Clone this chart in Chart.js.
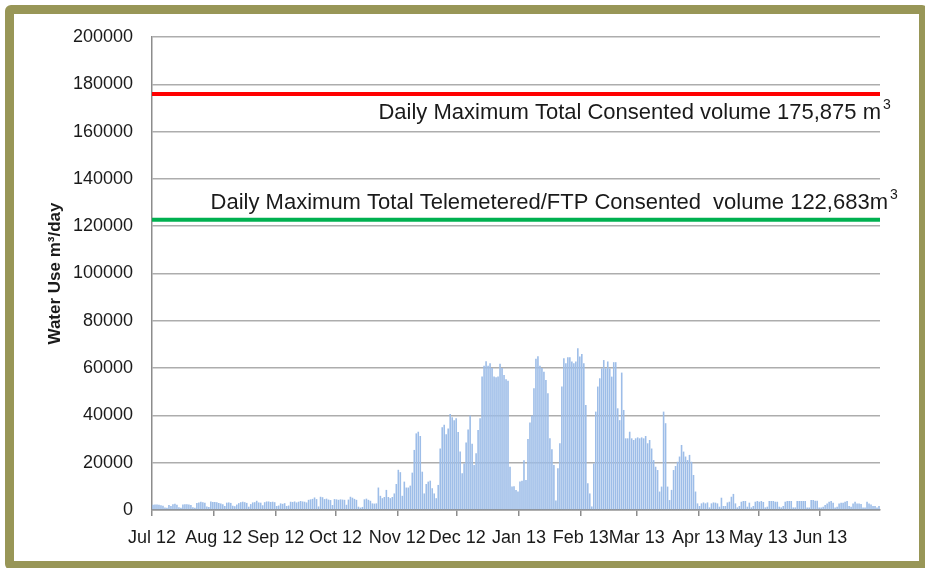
<!DOCTYPE html>
<html>
<head>
<meta charset="utf-8">
<title>Daily water use</title>
<script src="https://cdn.jsdelivr.net/npm/chart.js@4.4.0/dist/chart.umd.min.js"></script>
<style>
  html, body { margin: 0; padding: 0; background: #fff; overflow: hidden; }
  #frame {
    position: absolute; left: 5px; top: 5px; width: 923px; height: 565px;
    box-sizing: border-box; border: 9px solid #989657; border-radius: 6px; background: #fff;
  }
  #wrap { position: absolute; left: 0; top: 0; width: 925px; height: 568px; }
</style>
</head>
<body>
<div id="frame"></div>
<div id="wrap"><canvas id="waterChart" width="925" height="568"></canvas></div>
<script>
// Month labels and the day (from 1 Jul 2012) each month starts on
const monthLabels = ['Jul 12', 'Aug 12', 'Sep 12', 'Oct 12', 'Nov 12', 'Dec 12',
                     'Jan 13', 'Feb 13', 'Mar 13', 'Apr 13', 'May 13', 'Jun 13'];
const monthStartDays = [0, 31, 62, 92, 123, 153, 184, 215, 243, 274, 304, 335];
const daysInYear = 365;

// Consent limits (m3/day)
const consentedMax = 175875;
const telemeteredMax = 122683;

// Daily water use, m3/day, 1 Jul 2012 - 30 Jun 2013
const dailyUse = [
  // Jul
  2200, 2300, 2300, 2200, 2000, 1800, 1100, 900, 2100, 1700, 2400, 2600, 2200, 1200, 1000, 2300,
  2400, 2400, 2300, 2100, 1200, 1000, 3000, 3200, 3500, 3300, 3100, 1500, 1300, 3600, 3400,
  // Aug
  3400, 3300, 3000, 2700, 2400, 1700, 3100, 3200, 3000, 1800, 1600, 2300, 2900, 3300, 3500, 3300,
  3000, 1400, 2500, 3200, 3300, 3900, 3200, 3100, 2000, 3300, 3600, 3600, 3400, 3500, 3300,
  // Sep
  1700, 1900, 2800, 2600, 2900, 1700, 1900, 3500, 3400, 3600, 3200, 3500, 3800, 3600, 3500,
  3200, 4300, 4500, 4700, 5300, 4600, 1500, 5600, 5400, 4600, 4800, 4400, 4200, 2100, 4600,
  // Oct
  4500, 4300, 4500, 4400, 4300, 2200, 4400, 5600, 5200, 4700, 4300, 1400, 1000, 1300, 4500, 4800,
  4300, 3900, 2800, 2700, 2800, 9500, 6000, 5000, 5500, 8500, 5500, 5000, 5500, 7000, 11000,
  // Nov
  17000, 16000, 6000, 12000, 9500, 9500, 10300, 15800, 25400, 32400, 33100, 31300, 16200, 7000, 11000,
  12000, 12400, 9200, 7000, 5000, 10600, 26000, 35000, 36000, 32000, 34500, 40600, 39200, 38000, 38800,
  // Dec
  33000, 24700, 15500, 19700, 28500, 34000, 40000, 28000, 19000, 24000, 33800, 38800, 56400, 61000, 62900, 61000,
  62000, 60000, 56400, 56100, 56400, 61800, 60000, 57100, 55300, 54700, 18300, 9900, 10000, 8500, 7800,
  // Jan
  12000, 12400, 21000, 12700, 30000, 37000, 40000, 51500, 64000, 65000, 61000, 60000, 58500, 55000, 49400, 30300,
  25700, 19000, 4000, 17700, 28200, 52200, 64200, 62000, 64600, 64600, 62800, 62000, 62800, 68400, 64900,
  // Feb
  66000, 62000, 44400, 11300, 7000, 1500, 19700, 41600, 52200, 55700, 59900, 63400, 59900, 62800,
  59900, 56400, 62500, 62500, 43000, 38000, 58100, 42300, 30300, 30300, 33100, 30300, 29600, 30300,
  // Mar
  30700, 30300, 30700, 30300, 31300, 28200, 29600, 26000, 21100, 18300, 16900, 7800, 9900, 41600, 36700, 9900,
  4200, 8500, 16900, 18600, 20400, 22600, 27500, 24700, 22600, 21100, 23300, 20400, 14800, 7800, 2800,
  // Apr
  1700, 2800, 3200, 2800, 3200, 1100, 2800, 3200, 3100, 2800, 1400, 5200, 1700, 1700, 3200,
  3500, 5600, 6800, 2800, 1100, 1700, 3500, 3800, 3800, 1400, 3100, 1100, 1700, 3500, 3800,
  // May
  3500, 3800, 3400, 1100, 1400, 3800, 3800, 3800, 3500, 3500, 1400, 1100, 1700, 3500, 3800, 3800,
  3800, 1100, 1100, 3800, 3800, 3800, 3800, 3800, 1100, 1100, 4200, 4200, 3900, 3900, 1100,
  // Jun
  1100, 1400, 2100, 2800, 3500, 3800, 3100, 1100, 1400, 2800, 3100, 3100, 3500, 3800, 1700,
  1400, 2800, 3500, 2800, 2800, 2500, 1100, 1100, 3500, 2800, 2300, 1700, 1700, 1100, 1700
];

const textColor = '#1a1a1a';
const fontFamily = '"Liberation Sans", Arial, sans-serif';

// Draws the two consent limit captions next to their lines
const limitLabels = {
    id: 'limitLabels',
    afterDatasetsDraw(chart) {
        const { ctx, chartArea, scales: { y } } = chart;
        const drawCaption = (text, right, yPos) => {
            ctx.font = '22px ' + fontFamily;
            ctx.textAlign = 'right';
            ctx.textBaseline = 'middle';
            ctx.fillText(text, right, yPos);
            ctx.font = '14px ' + fontFamily;
            ctx.textAlign = 'left';
            ctx.fillText('3', right + 2, yPos - 8);
        };
        ctx.save();
        ctx.fillStyle = textColor;
        drawCaption('Daily Maximum Total Consented volume 175,875 m',
            chartArea.right + 1, y.getPixelForValue(consentedMax) + 19);
        drawCaption('Daily Maximum Total Telemetered/FTP Consented  volume 122,683m',
            chartArea.right + 8, y.getPixelForValue(telemeteredMax) - 17);
        ctx.restore();
    }
};

function limitLine(value, color) {
    return {
        type: 'line',
        data: [{ x: 0, y: value }, { x: daysInYear, y: value }],
        borderColor: color,
        borderWidth: 4,
        pointRadius: 0,
        order: 0
    };
}

const ctx = document.getElementById('waterChart').getContext('2d');
const waterChart = new Chart(ctx, {
    type: 'bar',
    data: {
        datasets: [
            limitLine(consentedMax, '#ff0000'),
            limitLine(telemeteredMax, '#00b050'),
            {
                type: 'bar',
                data: dailyUse.map((v, i) => ({ x: i + 0.5, y: v })),
                backgroundColor: '#9dbde8',
                barPercentage: 0.8,
                categoryPercentage: 1,
                order: 1
            }
        ]
    },
    options: {
        responsive: false,
        animation: false,
        layout: { padding: { top: 37, right: 45, left: 0, bottom: 0 } },
        plugins: { legend: { display: false }, tooltip: { enabled: false } },
        scales: {
            x: {
                type: 'linear',
                min: 0,
                max: daysInYear,
                offset: false,
                afterBuildTicks: (scale) => { scale.ticks = monthStartDays.map(d => ({ value: d })); },
                afterFit: (scale) => { scale.height = 58; },
                ticks: {
                    autoSkip: false,
                    maxRotation: 0,
                    padding: 11,
                    color: textColor,
                    font: { family: fontFamily, size: 18 },
                    callback: (value, index) => monthLabels[index]
                },
                grid: { offset: false, drawOnChartArea: false, drawTicks: true, tickLength: 6, color: '#8c8c8c', lineWidth: 1.5 },
                border: { color: '#8c8c8c', width: 1.5 }
            },
            y: {
                min: 0,
                max: 200000,
                afterFit: (scale) => { scale.width = 152; },
                ticks: {
                    stepSize: 20000,
                    padding: 19,
                    color: textColor,
                    font: { family: fontFamily, size: 18 },
                    callback: (value) => String(value)
                },
                grid: { drawTicks: false, color: '#adadad', lineWidth: 1.5 },
                border: { color: '#8c8c8c', width: 1.5 },
                title: {
                    display: true,
                    text: 'Water Use m³/day',
                    color: textColor,
                    font: { family: fontFamily, size: 17, weight: 'bold' },
                    padding: { top: 45, bottom: 0 }
                }
            }
        }
    },
    plugins: [limitLabels]
});
</script>
</body>
</html>
